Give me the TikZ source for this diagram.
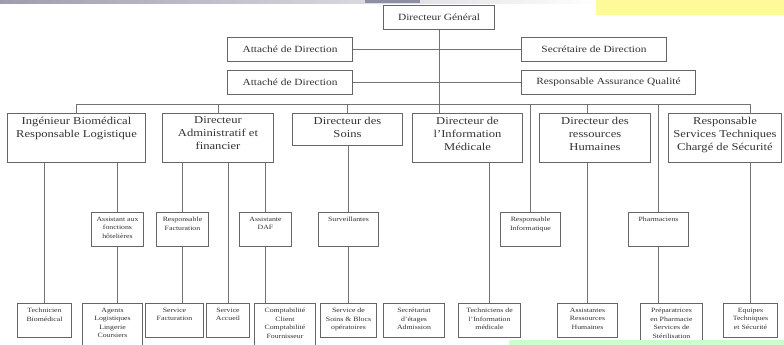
\documentclass[tikz,border=0pt]{standalone}
\usepackage{fontspec}
\setmainfont[FakeStretch=1.2]{Liberation Serif}
\usepackage{tikz}

% text boxes with the text set at the top
\newcommand{\dirbox}[3]{\parbox[c][#2pt][t]{#1pt}{\centering\vspace*{3.5pt}#3\par}}
\newcommand{\subbox}[3]{\parbox[c][#2pt][t]{#1pt}{\centering\vspace*{4.5pt}#3\par}}

\begin{document}
\begin{tikzpicture}[
    x=1pt, y=-1pt,
    head/.style={rectangle, draw=black!60, line width=1pt, fill=white, inner sep=0pt, text=black!80, font=\fontsize{9.5}{11}\selectfont, anchor=north west},
    director/.style={head, font=\fontsize{10.5}{13}\selectfont},
    unit/.style={head, font=\fontsize{6.5}{8.5}\selectfont},
    link/.style={draw=black!55, line width=0.9pt}
]
\useasboundingbox (0,0) rectangle (784,345);

% Backdrop
\shade[left color=blue!10!gray!70, right color=white] (0,0) rectangle (600,4);
\fill[blue!10!gray!80] (365,0) rectangle (420,3);
\fill[yellow!40] (596,0) rectangle (784,15);

% Direction
\node (dg) [head, minimum width=111pt, minimum height=24pt] at (383,5) {Directeur Général};
\node (att1) [head, minimum width=125pt, minimum height=24pt] at (227,37) {Attaché de Direction};
\node (sec) [head, minimum width=145pt, minimum height=24pt] at (521,37) {Secrétaire de Direction};
\node (att2) [head, minimum width=125pt, minimum height=24pt] at (227,70) {Attaché de Direction};
\node (raq) [head, minimum width=174pt, minimum height=24pt] at (521,70) {Responsable Assurance Qualité};

% Directors
\node (ing) [director] at (7,113) {\dirbox{138}{49}{Ingénieur Biomédical\\Responsable Logistique}};
\node (daf) [director] at (162,113) {\dirbox{111}{49}{Directeur\\Administratif et\\financier}};
\node (soins) [director] at (292,113) {\dirbox{110}{32}{Directeur des\\Soins}};
\node (info) [director] at (412,113) {\dirbox{110}{49}{Directeur de\\l'Information\\Médicale}};
\node (drh) [director] at (539,113) {\dirbox{111}{49}{Directeur des\\ressources\\Humaines}};
\node (st) [director] at (668,113) {\dirbox{113}{49}{Responsable\\Services Techniques\\Chargé de Sécurité}};

% Middle level
\node (afh) [unit] at (91,212) {\subbox{52}{34}{Assistant aux\\fonctions\\hôtelières}};
\node (respfact) [unit] at (156,212) {\subbox{52}{34}{Responsable\\Facturation}};
\node (asstdaf) [unit] at (239,212) {\subbox{52}{34}{Assistante\\DAF}};
\node (surv) [unit] at (318,212) {\subbox{60}{34}{Surveillantes}};
\node (respinfo) [unit] at (500,212) {\subbox{60}{34}{Responsable\\Informatique}};
\node (pharm) [unit] at (628,212) {\subbox{60}{34}{Pharmaciens}};

% Services
\node (techbio) [unit] at (17,303) {\subbox{54}{34}{Technicien\\Biomédical}};
\node (agents) [unit] at (82,303) {\subbox{60}{46}{Agents\\Logistiques\\Lingerie\\Coursiers}};
\node (servfact) [unit] at (145,303) {\subbox{58}{34}{Service\\Facturation}};
\node (accueil) [unit] at (206,303) {\subbox{43}{34}{Service\\Accueil}};
\node (compta) [unit] at (254,303) {\subbox{61}{46}{Comptabilité\\Client\\Comptabilité\\Fournisseur}};
\node (soinsblocs) [unit] at (320,303) {\subbox{56}{34}{Service de\\Soins \& Blocs\\opératoires}};
\node (secr) [unit] at (383,303) {\subbox{61}{34}{Secrétariat\\d'étages\\Admission}};
\node (techinfo) [unit] at (458,303) {\subbox{62}{34}{Techniciens de\\l'Information\\médicale}};
\node (asstrh) [unit] at (557,303) {\subbox{60}{34}{Assistantes\\Ressources\\Humaines}};
\node (prep) [unit] at (640,303) {\subbox{62}{46}{Préparatrices\\en Pharmacie\\Services de\\Stérilisation}};
\node (equipes) [unit] at (723,303) {\subbox{54}{34}{Equipes\\Techniques\\et Sécurité}};

\fill[green!20] (509,340) rectangle (784,345);

% Lines
\coordinate (bus) at (0,104);
\draw [link] (dg.south) -- (dg.south |- info.north);
\draw [link] (att1.east) -- (sec.west);
\draw [link] (att2.east) -- (raq.west);
\draw [link] (bus -| ing.north) -- (bus -| equipes);
\draw [link] (bus -| ing.north) -- (ing.north);
\draw [link] (bus -| daf.north) -- (daf.north);
\draw [link] (bus -| soins.north) -- (soins.north);
\draw [link] (bus -| respinfo) -- (respinfo.north);
\draw [link] (bus -| asstrh) -- (drh.north -| asstrh);
\draw [link] (bus -| pharm) -- (pharm.north);
\draw [link] (bus -| equipes) -- (st.north -| equipes);
\draw [link] (ing.south -| techbio) -- (techbio.north);
\draw [link] (ing.south -| afh) -- (afh.north);
\draw [link] (afh.south) -- (afh.south |- agents.north);
\draw [link] (daf.south -| respfact) -- (respfact.north);
\draw [link] (respfact.south) -- (respfact.south |- servfact.north);
\draw [link] (daf.south -| accueil) -- (accueil.north);
\draw [link] (daf.south -| asstdaf) -- (asstdaf.north);
\draw [link] (asstdaf.south) -- (asstdaf.south |- compta.north);
\draw [link] (soins.south -| surv) -- (surv.north);
\draw [link] (surv.south) -- (surv.south |- soinsblocs.north);
\draw [link] (info.south -| techinfo) -- (techinfo.north);
\draw [link] (drh.south -| asstrh) -- (asstrh.north);
\draw [link] (pharm.south) -- (pharm.south |- prep.north);
\draw [link] (st.south -| equipes) -- (equipes.north);

\end{tikzpicture}
\end{document}
